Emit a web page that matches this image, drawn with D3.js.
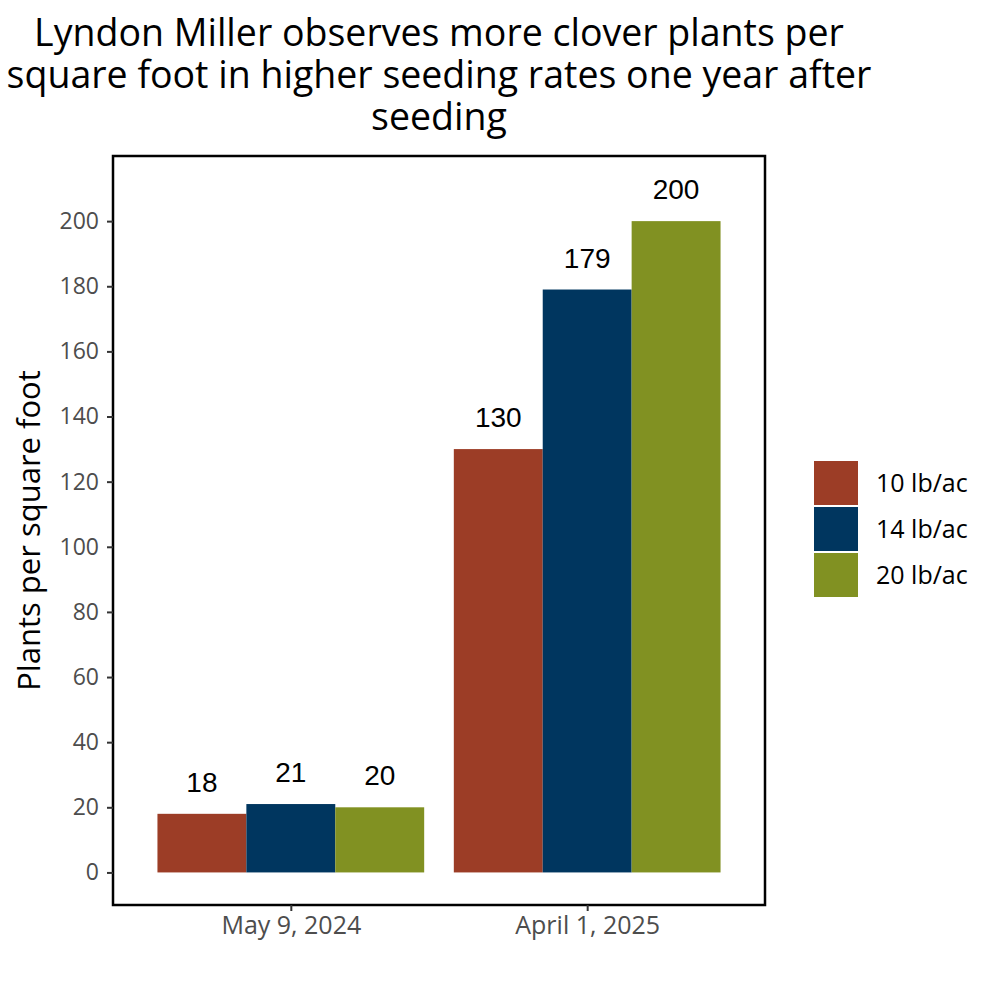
<!DOCTYPE html>
<html>
<head>
<meta charset="utf-8">
<script src="https://cdn.jsdelivr.net/npm/d3@7"></script>
<style>
  body { margin: 0; background: #fff; }
  text { font-family: "Open Sans", "Noto Sans", sans-serif; }
</style>
</head>
<body>
<div id="chart"></div>
<script>
// data
var dates = ["May 9, 2024", "April 1, 2025"];
var rates = ["10 lb/ac", "14 lb/ac", "20 lb/ac"];
var colors = ["#9c3d26", "#00365f", "#819122"];
var plants10 = [18, 130];
var plants14 = [21, 179];
var plants20 = [20, 200];
var yTicks = [0, 20, 40, 60, 80, 100, 120, 140, 160, 180, 200];

var series = [plants10, plants14, plants20];
var rows = [];
dates.forEach(function(d, i) {
    rates.forEach(function(r, j) {
        rows.push({date: d, rate: r, value: series[j][i], k: j});
    });
});

var W = 1000, H = 1000;
var panel = {left: 113, right: 765, top: 156, bottom: 905};

var svg = d3.select("#chart").append("svg")
    .attr("width", W)
    .attr("height", H);

// scales (ggplot-like discrete expansion of 0.6)
var step = (panel.right - panel.left) / 2.2;
var xc = d3.scalePoint()
    .domain(dates)
    .range([panel.left + 0.6 * step, panel.right - 0.6 * step]);
var groupW = 0.9 * step;
var xs = d3.scaleBand()
    .domain(rates)
    .range([-groupW / 2, groupW / 2]);

var y = d3.scaleLinear()
    .domain([-10, 220])
    .range([panel.bottom, panel.top]);

// bars
svg.append("g").selectAll("rect")
    .data(rows)
    .join("rect")
    .attr("x", d => xc(d.date) + xs(d.rate))
    .attr("width", xs.bandwidth())
    .attr("y", d => y(d.value))
    .attr("height", d => y(0) - y(d.value))
    .attr("fill", d => colors[d.k]);

// value labels
svg.append("g").selectAll("text")
    .data(rows)
    .join("text")
    .attr("x", d => xc(d.date) + xs(d.rate) + xs.bandwidth() / 2)
    .attr("y", d => y(d.value) - 22)
    .attr("text-anchor", "middle")
    .style("font-family", "'Liberation Sans', Arial, sans-serif")
    .style("font-size", "28px")
    .attr("fill", "#000")
    .text(d => d.value);

// panel border
svg.append("rect")
    .attr("x", panel.left)
    .attr("y", panel.top)
    .attr("width", panel.right - panel.left)
    .attr("height", panel.bottom - panel.top)
    .attr("fill", "none")
    .attr("stroke", "#000")
    .attr("stroke-width", 2.5);

// y axis
var yAxis = svg.append("g")
    .attr("transform", "translate(" + panel.left + ",0)")
    .call(d3.axisLeft(y).tickValues(yTicks).tickSize(6).tickPadding(8));
yAxis.select(".domain").remove();
yAxis.selectAll(".tick line").attr("stroke", "#333").attr("stroke-width", 2);
yAxis.selectAll(".tick text")
    .attr("fill", "#4d4d4d")
    .style("font-size", "23px")
    .style("font-family", "'Open Sans', 'Noto Sans', sans-serif");

// x axis
var xAxis = svg.append("g")
    .attr("transform", "translate(0," + panel.bottom + ")")
    .call(d3.axisBottom(xc).tickSize(6).tickPadding(5));
xAxis.select(".domain").remove();
xAxis.selectAll(".tick line").attr("stroke", "#333").attr("stroke-width", 2);
xAxis.selectAll(".tick text")
    .attr("fill", "#4d4d4d")
    .style("font-size", "25px")
    .style("font-family", "'Open Sans', 'Noto Sans', sans-serif");

// y axis title
svg.append("text")
    .attr("transform", "translate(40," + (panel.top + panel.bottom) / 2 + ") rotate(-90)")
    .attr("text-anchor", "middle")
    .style("font-size", "31px")
    .attr("fill", "#000")
    .text("Plants per square foot");

// title
var titleLines = [
    "Lyndon Miller observes more clover plants per",
    "square foot in higher seeding rates one year after",
    "seeding"
];
svg.append("g").selectAll("text")
    .data(titleLines)
    .join("text")
    .attr("x", (panel.left + panel.right) / 2)
    .attr("y", (d, i) => 46 + i * 42)
    .attr("text-anchor", "middle")
    .style("font-size", "37.5px")
    .attr("fill", "#000")
    .text(d => d);

// legend
var legend = svg.append("g")
    .attr("transform", "translate(814,461)");
var leg = legend.selectAll("g")
    .data(rates)
    .join("g")
    .attr("transform", (d, i) => "translate(0," + i * 46 + ")");
leg.append("rect")
    .attr("width", 44)
    .attr("height", 44)
    .attr("fill", (d, i) => colors[i]);
leg.append("text")
    .attr("x", 62)
    .attr("y", 22)
    .attr("dy", "0.35em")
    .style("font-size", "25px")
    .attr("fill", "#000")
    .text(d => d);
</script>
</body>
</html>
